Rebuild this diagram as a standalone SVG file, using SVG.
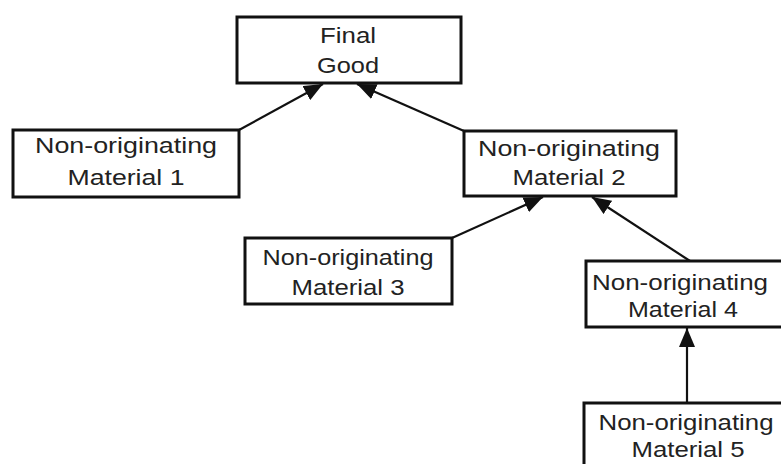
<svg xmlns="http://www.w3.org/2000/svg" width="781" height="464" viewBox="0 0 781 464">
<style>
.box{fill:#fff;stroke:#111;stroke-width:3}
.lbl{font-family:"Liberation Sans",Arial,sans-serif;font-size:22px;fill:#222;text-anchor:middle}
.edge{stroke:#111;stroke-width:2.2;fill:none;marker-end:url(#ah)}
</style>
<defs>
<marker id="ah" markerUnits="userSpaceOnUse" markerWidth="20" markerHeight="16" refX="19" refY="8" orient="auto">
<path d="M0,0 L19,8 L0,16 Z" fill="#111"/>
</marker>
</defs>
<rect width="781" height="464" fill="#fff"/>
<g id="connectors">
<line class="edge" x1="239" y1="130" x2="323" y2="84"/>
<line class="edge" x1="464" y1="131" x2="357" y2="84"/>
<line class="edge" x1="452" y1="238" x2="543" y2="197"/>
<line class="edge" x1="690" y1="261" x2="592" y2="197"/>
<line class="edge" x1="687" y1="403" x2="687" y2="328"/>
</g>
<g id="final-good">
<rect class="box" x="237" y="17" width="224" height="66"/>
<text class="lbl" x="348" y="43" textLength="56" lengthAdjust="spacingAndGlyphs">Final</text>
<text class="lbl" x="348" y="73" textLength="62" lengthAdjust="spacingAndGlyphs">Good</text>
</g>
<g id="material-1">
<rect class="box" x="13" y="130" width="226" height="67"/>
<text class="lbl" x="126" y="153" textLength="182" lengthAdjust="spacingAndGlyphs">Non-originating</text>
<text class="lbl" x="126" y="185" textLength="117" lengthAdjust="spacingAndGlyphs">Material 1</text>
</g>
<g id="material-2">
<rect class="box" x="464" y="131" width="212" height="65"/>
<text class="lbl" x="569" y="156" textLength="182" lengthAdjust="spacingAndGlyphs">Non-originating</text>
<text class="lbl" x="569" y="185" textLength="113" lengthAdjust="spacingAndGlyphs">Material 2</text>
</g>
<g id="material-3">
<rect class="box" x="245" y="238" width="207" height="66"/>
<text class="lbl" x="348" y="265" textLength="171" lengthAdjust="spacingAndGlyphs">Non-originating</text>
<text class="lbl" x="348" y="295" textLength="113" lengthAdjust="spacingAndGlyphs">Material 3</text>
</g>
<g id="material-4">
<rect class="box" x="586" y="261" width="200" height="66"/>
<text class="lbl" x="680" y="290" textLength="176" lengthAdjust="spacingAndGlyphs">Non-originating</text>
<text class="lbl" x="683" y="317" textLength="110" lengthAdjust="spacingAndGlyphs">Material 4</text>
</g>
<g id="material-5">
<rect class="box" x="584" y="403" width="202" height="70"/>
<text class="lbl" x="686" y="430" textLength="175" lengthAdjust="spacingAndGlyphs">Non-originating</text>
<text class="lbl" x="688" y="457" textLength="113" lengthAdjust="spacingAndGlyphs">Material 5</text>
</g>
</svg>
